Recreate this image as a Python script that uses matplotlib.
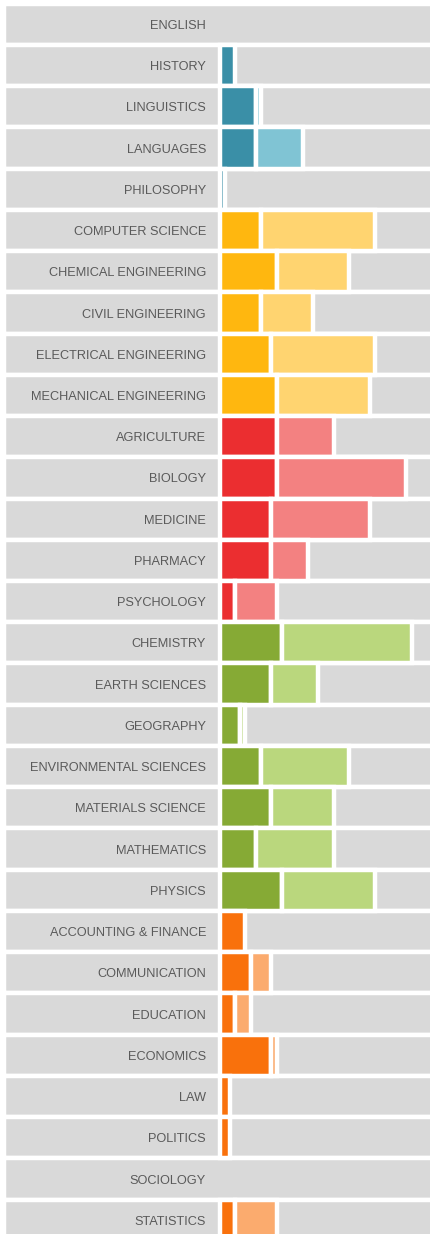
import matplotlib
matplotlib.use("Agg")
import matplotlib.pyplot as plt

subjects = [
    "ENGLISH", "HISTORY", "LINGUISTICS", "LANGUAGES", "PHILOSOPHY",
    "COMPUTER SCIENCE", "CHEMICAL ENGINEERING", "CIVIL ENGINEERING",
    "ELECTRICAL ENGINEERING", "MECHANICAL ENGINEERING",
    "AGRICULTURE", "BIOLOGY", "MEDICINE", "PHARMACY", "PSYCHOLOGY",
    "CHEMISTRY", "EARTH SCIENCES", "GEOGRAPHY", "ENVIRONMENTAL SCIENCES",
    "MATERIALS SCIENCE", "MATHEMATICS", "PHYSICS",
    "ACCOUNTING & FINANCE", "COMMUNICATION", "EDUCATION", "ECONOMICS",
    "LAW", "POLITICS", "SOCIOLOGY", "STATISTICS",
]
groups = (["humanities"] * 5 + ["engineering"] * 5 + ["life"] * 5
          + ["physical"] * 7 + ["social"] * 8)
dark_values = [0, 3, 7, 7, 1, 8, 11, 8, 10, 11, 11, 11, 10, 10, 3,
               12, 10, 4, 8, 10, 7, 12, 5, 6, 3, 10, 2, 2, 0, 3]
light_values = [0, 0, 1, 9, 0, 22, 14, 10, 20, 18, 11, 25, 19, 7, 8,
                25, 9, 1, 17, 12, 15, 18, 0, 4, 3, 1, 0, 0, 0, 8]

dark_colors = {"humanities": "#3a8fa7", "engineering": "#ffb70f",
               "life": "#eb2e30", "physical": "#86aa35", "social": "#f9710c"}
light_colors = {"humanities": "#80c4d4", "engineering": "#ffd470",
                "life": "#f38181", "physical": "#bad77d", "social": "#fbab6e"}

W, H = 430, 1234
px_unit = 5.19      # pixels per unit
x0_px = 219.5       # pixel where the bars start
row_px = 41.24
first_row_px = 24.25

fig = plt.figure(figsize=(W / 100, H / 100), dpi=100)
ax = fig.add_axes([0, 0, 1, 1])
ax.set_xlim(-x0_px / px_unit, (W - x0_px) / px_unit)
ax.set_ylim((H - first_row_px) / row_px, -first_row_px / row_px)
ax.axis("off")

n = len(subjects)
rows = list(range(n))
left_edge = (3.8 - x0_px) / px_unit
right_edge = (W + 20 - x0_px) / px_unit
edge = dict(edgecolor="white", linewidth=3.2)

ax.barh(rows, right_edge - left_edge, left=left_edge, height=1.0,
        color="#d9d9d9", **edge)

for i in rows:
    g = groups[i]
    d = dark_values[i]
    l = light_values[i]
    if d > 0:
        ax.barh(i, d, left=0, height=1.0, color=dark_colors[g], **edge)
    if l > 0:
        ax.barh(i, l, left=d, height=1.0, color=light_colors[g], **edge)
    # baseline a bit below the row centre so the caps sit centred
    ax.text(-13.5 / px_unit, i + 4.6 / row_px, subjects[i], ha="right",
            va="baseline", fontsize=9.2, color="#5a5a5a",
            family="Liberation Sans")

fig.savefig("out.png", dpi=100)
